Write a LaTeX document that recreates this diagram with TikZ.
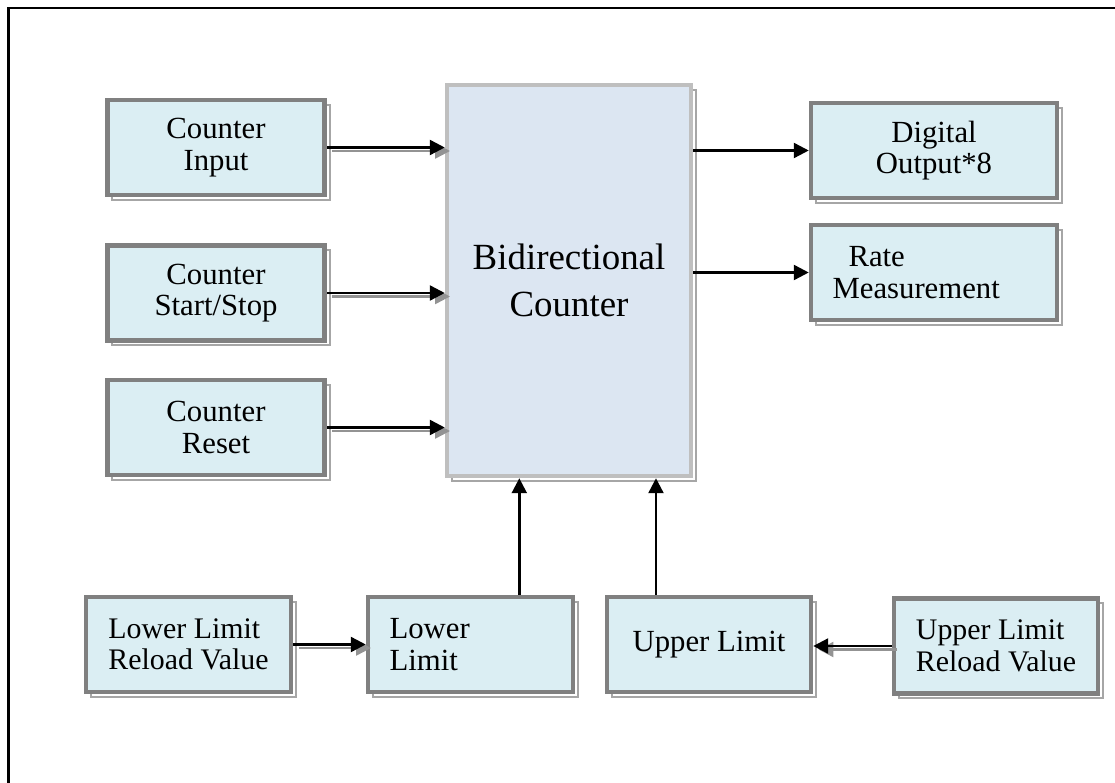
\documentclass[tikz,border=0pt]{standalone}
\usepackage{fontspec}
\setmainfont{Liberation Serif}
\usetikzlibrary{arrows.meta,shadows,calc}
\definecolor{boxfill}{RGB}{219,238,243}
\definecolor{boxline}{RGB}{128,128,128}
\definecolor{cntfill}{RGB}{220,230,242}
\definecolor{cntline}{RGB}{191,191,191}
\newcommand{\boxfont}{\fontsize{17.5}{18}\selectfont}
\newcommand{\cntfont}{\fontsize{21}{27}\selectfont}
\tikzset{
  blk/.style={draw=boxline, fill=boxfill, line width=2.6pt, font=\boxfont,
    minimum height=1.9cm, inner sep=0pt, align=center,
    general shadow={fill=white, draw=gray!70, line width=1.1pt,
      shadow xshift=2.8pt, shadow yshift=-2.8pt}},
  lblk/.style={blk, align=left, inner xsep=0.43cm},
  feed/.style={line width=1.4pt, -{Triangle[length=8.5pt,width=8.5pt]}},
  sfeed/.style={feed, preaction={draw=gray!85, line width=1.4pt,
      -{Triangle[length=8.5pt,width=8.5pt]},
      transform canvas={shift={(3pt,-2pt)}}}},
}

\begin{document}
\begin{tikzpicture}[x=0.02cm,y=-0.02cm]
\useasboundingbox (0,0) rectangle (1115,783);
\draw[line width=1.3pt] (8.5,800) -- (8.5,8) -- (1130,8); % frame
%% the counter and its inputs
\node[blk, draw=cntline, fill=cntfill, font=\cntfont, minimum width=4.88cm,
  minimum height=7.82cm] (bdc) at (569,280.5) {Bidirectional\\Counter};
\node[blk, minimum width=4.35cm] (inp) at (216,147.5) {Counter\\Input};
\node[blk, minimum width=4.35cm] (ss) at (216,293) {Counter\\Start/Stop};
\node[blk, minimum width=4.35cm] (rst) at (216,427.5) {Counter\\Reset};
%% outputs
\node[blk, minimum width=4.92cm] (dig) at (934,150.5) {Digital\\Output*8};
\node[lblk, text width=4.06cm] (rate) at (934,272.5) {\hspace*{0.32cm}Rate\\Measurement};
%% limits
\node[blk, align=left, minimum width=4.1cm, font=\fontsize{17}{18}\selectfont] (lrv) at (188.5,644.5) {Lower Limit\\Reload Value};
\node[lblk, text width=3.24cm] (low) at (470.5,644.5) {Lower\\Limit};
\node[blk, minimum width=4.08cm] (upp) at (709,644.5) {Upper Limit};
\node[blk, align=left, minimum width=4.08cm, font=\fontsize{17}{18}\selectfont] (urv) at (996,646) {Upper Limit\\Reload Value};
\coordinate (lowin) at ($(bdc.south west)!0.30!(bdc.south east)$);
\coordinate (uppin) at ($(bdc.south west)!0.85!(bdc.south east)$);
\draw[sfeed] (inp.east) -- (inp.east -| bdc.west); % input
\draw[sfeed] (ss.east) -- (ss.east -| bdc.west); % start/stop
\draw[sfeed] (rst.east) -- (rst.east -| bdc.west); % reset
\draw[feed] (bdc.east |- dig.west) -- (dig.west); % digital out
\draw[feed] (bdc.east |- rate.west) -- (rate.west); % rate
\draw[feed] (low.north -| lowin) -- (lowin); % lower limit
\draw[feed] (upp.north -| uppin) -- (uppin); % upper limit
\draw[sfeed] (lrv.east) -- (low.west); % lower reload
\draw[sfeed] (urv.west) -- (urv.west -| upp.east); % upper reload
\end{tikzpicture}
\end{document}
